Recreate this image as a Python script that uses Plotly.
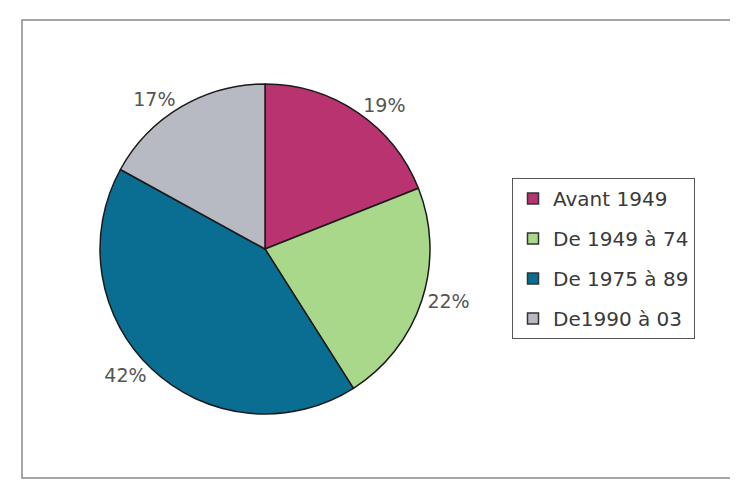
import plotly.graph_objects as go

labels = ["Avant 1949", "De 1949 à 74", "De 1975 à 89", "De1990 à 03"]
values = [19, 22, 42, 17]
colors = ["#B8336F", "#A9D88A", "#0A6E93", "#B7BAC2"]

W, H = 738, 486
OFF = 8  # page body margin
cx, cy, r = 265 - OFF, 249 - OFF, 165
FONT = "DejaVu Sans, Lato, sans-serif"

fig = go.Figure()
fig.add_trace(go.Pie(
    labels=labels,
    values=values,
    sort=False,
    direction="clockwise",
    rotation=0,
    marker=dict(colors=colors, line=dict(color="#1a1a1a", width=1.5)),
    texttemplate="%{percent:.0%}",
    textposition="outside",
    textfont=dict(family=FONT, size=19, color="#555555"),
    domain=dict(x=[(cx - r) / W, (cx + r) / W], y=[(H - cy - r) / H, (H - cy + r) / H]),
    automargin=False,
    showlegend=False,
))

# legend entries (one per category) so that spacing can match the reference
for lab, col in zip(labels, colors):
    fig.add_trace(go.Scatter(
        x=[None], y=[None], mode="markers", name=lab, legendgroup=lab,
        marker=dict(symbol="square", size=11, color=col, line=dict(color="#333333", width=1.5)),
        showlegend=True,
    ))

fig.update_layout(
    width=W, height=H,
    margin=dict(l=0, r=0, t=0, b=0),
    paper_bgcolor="white",
    plot_bgcolor="white",
    xaxis=dict(visible=False),
    yaxis=dict(visible=False),
    legend=dict(
        x=(512 - OFF) / W, y=(H - 178 + OFF) / H, xanchor="left", yanchor="top",
        bordercolor="#555555", borderwidth=1,
        font=dict(family=FONT, size=20, color="#3a3a3a"),
        bgcolor="white",
        tracegroupgap=11,
        itemwidth=30,
        entrywidth=160,
    ),
    shapes=[
        dict(type="rect", xref="paper", yref="paper",
             x0=14 / W, x1=724 / W, y0=(H - 470) / H, y1=(H - 12) / H,
             line=dict(color="#888888", width=1.5), fillcolor="rgba(0,0,0,0)", layer="below"),
    ],
)

fig.write_html("out.html")
